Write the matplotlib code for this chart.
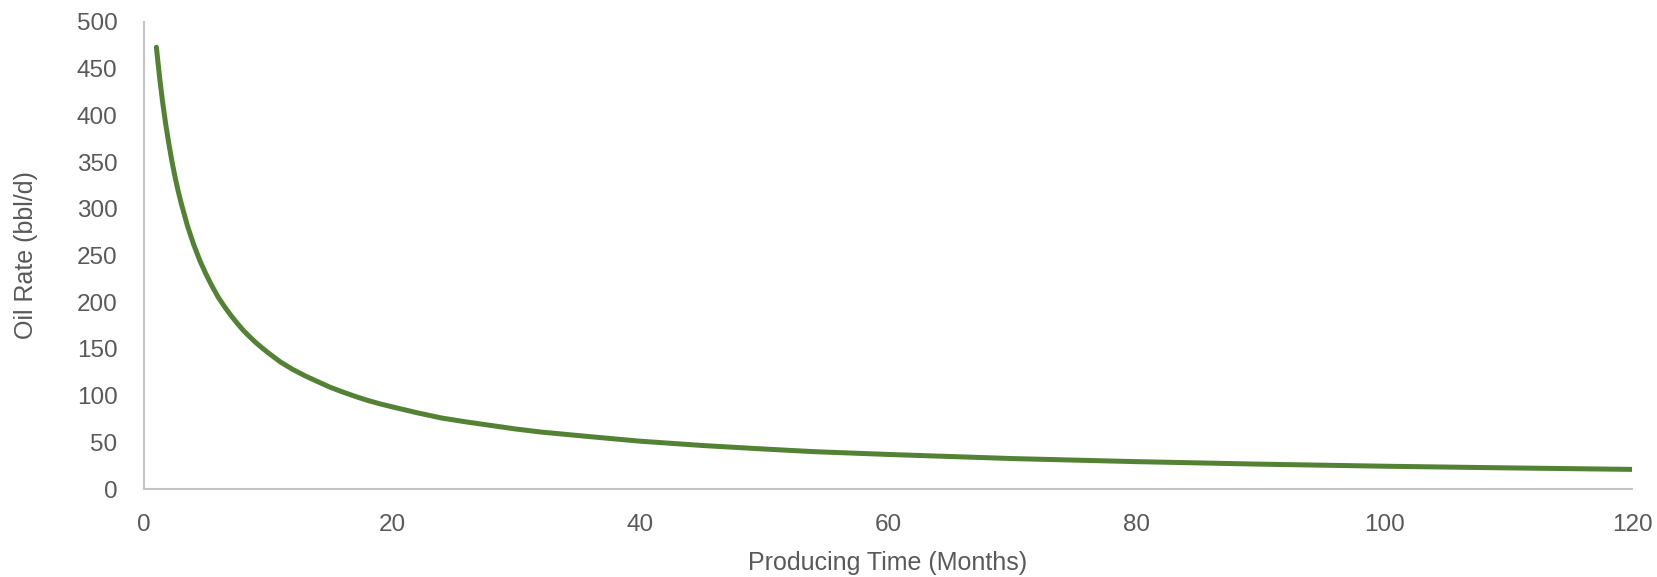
import matplotlib
matplotlib.use("Agg")
import matplotlib.pyplot as plt

# oil rate (denser where the curve bends hardest)
months = [1, 1.25, 1.5, 1.75, 2, 2.25, 2.5, 2.75, 3, 3.5, 4, 4.5, 5, 5.5, 6,
          6.5, 7, 7.5, 8, 8.5, 9, 9.5, 10, 11, 12, 13, 14, 15, 16, 17, 18, 19,
          20, 22, 24, 26, 28, 30, 32, 36, 40, 45, 50, 54, 60, 70, 80, 90, 100,
          110, 120]
oil_rate = [473, 441.5, 414.4, 390.6, 370, 351, 334.3, 319.3, 306, 281.9, 262,
            244.7, 230, 216.9, 205, 195.1, 186, 177.7, 170, 163.3, 157, 151.3,
            146, 136, 128, 121.1, 115, 109, 104, 99.3, 95, 91.3, 88, 81.7, 76,
            71.8, 68, 64.2, 61, 56, 51.2, 46.6, 42.8, 40, 37, 32.6, 29.3, 26.6,
            24.4, 22.6, 21.0]

x_ticks = [0, 20, 40, 60, 80, 100, 120]
y_ticks = [0, 50, 100, 150, 200, 250, 300, 350, 400, 450, 500]

plt.rcParams["font.family"] = ["Liberation Sans", "DejaVu Sans"]

fig = plt.figure(figsize=(16.57, 5.77), dpi=100)
ax = fig.add_axes([144 / 1657, 88 / 577, (1632 - 144) / 1657, (555 - 88) / 577])

ax.plot(months, oil_rate, color="#548235", linewidth=3.6,
        solid_capstyle="round", solid_joinstyle="round")

ax.set_xlim(0, 120)
ax.set_ylim(0, 500)
ax.set_xticks(x_ticks)
ax.set_yticks(y_ticks)

for side in ["top", "right"]:
    ax.spines[side].set_visible(False)
for side in ["left", "bottom"]:
    ax.spines[side].set_color("#c4c4c4")
    ax.spines[side].set_linewidth(1.5)

ax.tick_params(axis="both", length=0, labelsize=17.5, labelcolor="#595959")
ax.tick_params(axis="x", pad=18)
ax.tick_params(axis="y", pad=19)

ax.set_xlabel("Producing Time (Months)", fontsize=18, color="#595959", labelpad=11)
ax.set_ylabel("Oil Rate (bbl/d)", fontsize=18, color="#595959", labelpad=28)

fig.savefig("out.png", dpi=100, facecolor="white")
